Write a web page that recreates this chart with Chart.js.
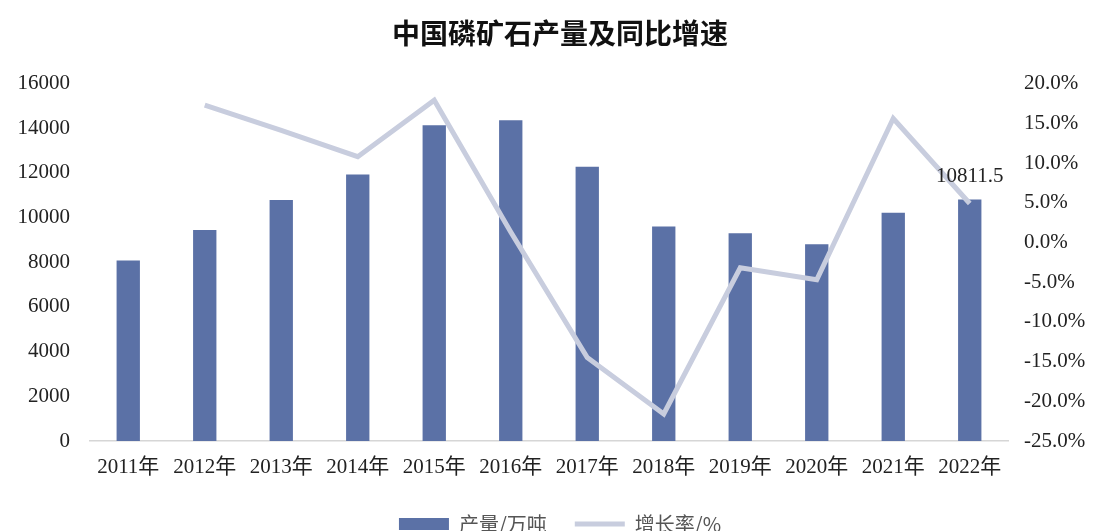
<!DOCTYPE html>
<html>
<head>
<meta charset="utf-8">
<script src="https://cdn.jsdelivr.net/npm/chart.js@4.4.0/dist/chart.umd.min.js"></script>
<style>
  html, body { margin: 0; padding: 0; background: #fff; }
  #wrap { width: 1098px; height: 531px; }
</style>
</head>
<body>
<div id="wrap"><canvas id="chart"></canvas></div>
<script>
// 数据
const years = ["2011年", "2012年", "2013年", "2014年", "2015年", "2016年", "2017年", "2018年", "2019年", "2020年", "2021年", "2022年"]
const output = [8080, 9450, 10790, 11930, 14140, 14360, 12280, 9600, 9300, 8810, 10220, 10811.5]   // 产量/万吨
const growth = [null, 17.3, 14.1, 10.8, 17.9, 1.3, -14.5, -21.6, -3.2, -4.7, 15.6, 4.9]        // 增长率/%

const serif = "'Liberation Serif', 'Noto Sans CJK SC', serif"
const cjk = "'Noto Sans CJK SC', sans-serif"

// 最后一根柱子的数值标签
const lastLabel = {
    id: 'lastLabel',
    afterDatasetsDraw(chart) {
        const meta = chart.getDatasetMeta(0)
        const i = output.length - 1
        const bar = meta.data[i]
        const ctx = chart.ctx
        ctx.save()
        ctx.font = "21px " + serif
        ctx.fillStyle = '#222'
        ctx.textAlign = 'center'
        ctx.textBaseline = 'bottom'
        ctx.fillText(String(output[i]), bar.x, bar.y - 13)
        ctx.restore()
    }
}

const ctx = document.getElementById('chart').getContext('2d')
const myChart = new Chart(ctx, {
    type: 'bar',
    data: {
        labels: years,
        datasets: [{
            type: 'bar',
            label: '产量/万吨',
            data: output,
            backgroundColor: 'rgb(91,113,166)',
            borderWidth: 0,
            barPercentage: 0.305,
            categoryPercentage: 1,
            pointStyle: 'rect',
            yAxisID: 'y',
            order: 1
        }, {
            type: 'line',
            label: '增长率/%',
            data: growth,
            borderColor: 'rgb(200,205,222)',
            backgroundColor: 'rgb(200,205,222)',
            borderWidth: 5,
            pointRadius: 0,
            pointHoverRadius: 0,
            pointBorderWidth: 5,
            pointStyle: 'line',
            tension: 0,
            yAxisID: 'y1',
            order: 0
        }]
    },
    options: {
        responsive: true,
        maintainAspectRatio: false,
        animation: false,
        layout: { padding: { left: 0, right: -22, top: 0, bottom: -13 } },
        plugins: {
            title: {
                display: true,
                text: '中国磷矿石产量及同比增速',
                color: '#111',
                font: { family: cjk, size: 28, weight: 'bold', lineHeight: 1.2 },
                padding: { top: 17, bottom: 33 }
            },
            legend: {
                position: 'bottom',
                labels: {
                    usePointStyle: true,
                    pointStyleWidth: 50,
                    boxHeight: 12,
                    padding: 28,
                    color: '#555',
                    font: { family: cjk, size: 20 },
                    sort: (a, b) => a.datasetIndex - b.datasetIndex
                }
            },
            tooltip: { enabled: false }
        },
        scales: {
            x: {
                grid: { display: false, drawTicks: false },
                border: { display: true, color: '#d6d6d6', width: 1.5 },
                ticks: { color: '#222', font: { family: serif, size: 21 }, padding: 14, maxRotation: 0, autoSkip: false },
                afterFit: s => { s.height = 45 }
            },
            y: {
                position: 'left',
                min: 0,
                max: 16000,
                grid: { display: false, drawTicks: false },
                border: { display: false },
                ticks: { stepSize: 2000, color: '#222', font: { family: serif, size: 21 }, padding: 20, callback: v => String(v) },
                afterFit: s => { s.width = 90 }
            },
            y1: {
                position: 'right',
                min: -25,
                max: 20,
                grid: { display: false, drawTicks: false },
                border: { display: false },
                ticks: {
                    stepSize: 5,
                    color: '#222',
                    font: { family: serif, size: 21 },
                    padding: 16,
                    callback: v => v.toFixed(1) + '%'
                },
                afterFit: s => { s.width = 112 }
            }
        }
    },
    plugins: [lastLabel]
})
</script>
</body>
</html>
